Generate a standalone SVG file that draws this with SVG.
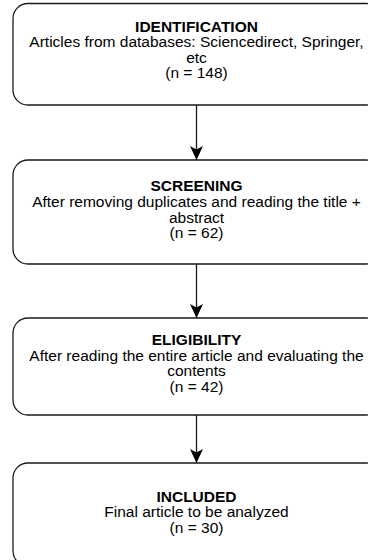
<svg xmlns="http://www.w3.org/2000/svg" width="368" height="560" viewBox="0 0 368 560">
<style>
.box{fill:#fff;stroke:#1a1a1a;stroke-width:1.3}
.edge{fill:none;stroke:#1a1a1a;stroke-width:1.3}
text{font-family:"Liberation Sans",Arial,sans-serif;font-size:15.5px;fill:#000;text-anchor:middle}
.t{font-weight:bold}
</style>
<defs>
<marker id="arr" markerUnits="userSpaceOnUse" markerWidth="16" markerHeight="16" refX="14" refY="6.5" orient="auto">
<path d="M0,0 L14,6.5 L0,13 L3.5,6.5 z" fill="#000"/>
</marker>
</defs>
<rect width="368" height="560" fill="#fff"/>
<g id="connectors">
<line class="edge" x1="196.5" y1="105" x2="196.5" y2="160" marker-end="url(#arr)"/>
<line class="edge" x1="196.5" y1="264" x2="196.5" y2="318" marker-end="url(#arr)"/>
<line class="edge" x1="196.5" y1="415" x2="196.5" y2="463" marker-end="url(#arr)"/>
</g>
<g id="identification">
<rect class="box" x="13" y="3.5" width="368" height="101.5" rx="15"/>
<text class="t" x="196.5" y="31.5">IDENTIFICATION</text>
<text x="196.5" y="47.2">Articles from databases: Sciencedirect, Springer,</text>
<text x="196.5" y="62.8">etc</text>
<text x="196.5" y="78.4">(n = 148)</text>
</g>
<g id="screening">
<rect class="box" x="13" y="160" width="368" height="104" rx="15"/>
<text class="t" x="196.5" y="191.3">SCREENING</text>
<text x="196.5" y="206.9">After removing duplicates and reading the title +</text>
<text x="196.5" y="222.5">abstract</text>
<text x="196.5" y="238.1">(n = 62)</text>
</g>
<g id="eligibility">
<rect class="box" x="13" y="318" width="368" height="97" rx="15"/>
<text class="t" x="196.5" y="345">ELIGIBILITY</text>
<text x="196.5" y="360.6">After reading the entire article and evaluating the</text>
<text x="196.5" y="376.2">contents</text>
<text x="196.5" y="391.8">(n = 42)</text>
</g>
<g id="included">
<rect class="box" x="13" y="463" width="368" height="103" rx="15"/>
<text class="t" x="196.5" y="501.5">INCLUDED</text>
<text x="196.5" y="517.1">Final article to be analyzed</text>
<text x="196.5" y="532.7">(n = 30)</text>
</g>
</svg>
